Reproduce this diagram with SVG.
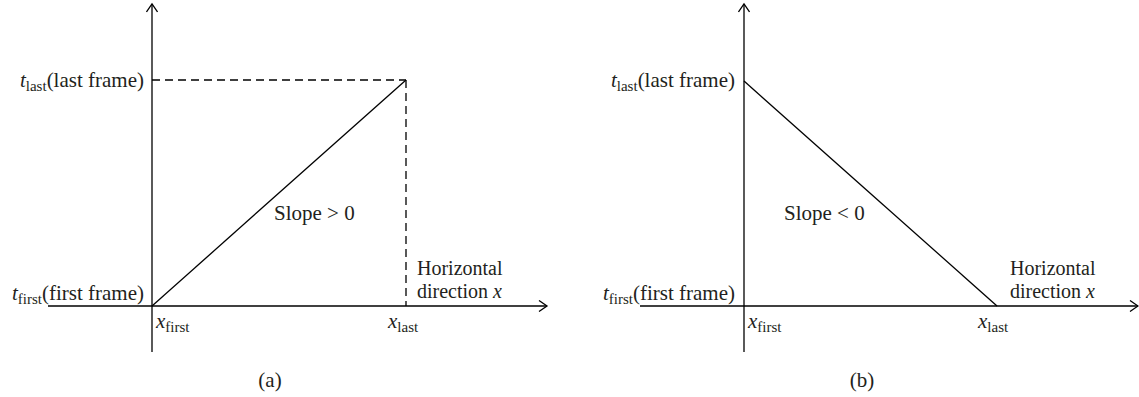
<svg xmlns="http://www.w3.org/2000/svg" width="1139" height="397" viewBox="0 0 1139 397">
  <style>
    .ax { stroke: #000; stroke-width: 1.3; fill: none; }
    .dash { stroke: #000; stroke-width: 1.3; fill: none; stroke-dasharray: 8 5; }
    text { font-family: "Liberation Serif", "Times New Roman", serif; font-size: 21px; fill: #231f20; }
    .it { font-style: italic; }
    .sub { font-size: 15px; }
    .hd { font-size: 20px; }
  </style>
  <defs>
    <marker id="arr" viewBox="0 0 12 12" refX="10" refY="6" markerWidth="12" markerHeight="12" markerUnits="userSpaceOnUse" orient="auto">
      <path d="M2,0.5 L10,6 L2,11.5" fill="none" stroke="#000" stroke-width="1.3"/>
    </marker>
  </defs>
  <rect width="1139" height="397" fill="#fff"/>

  <g id="connectors">
    <!-- panel a -->
    <line class="ax" x1="152" y1="352" x2="152" y2="4" marker-end="url(#arr)"/>
    <line class="ax" x1="48" y1="306" x2="547" y2="306" marker-end="url(#arr)"/>
    <line class="ax" x1="152" y1="306" x2="406" y2="80"/>
    <line class="dash" x1="152" y1="80" x2="406" y2="80"/>
    <line class="dash" x1="406" y1="80" x2="406" y2="306"/>
    <!-- panel b -->
    <line class="ax" x1="744" y1="352" x2="744" y2="4" marker-end="url(#arr)"/>
    <line class="ax" x1="640" y1="306" x2="1138" y2="306" marker-end="url(#arr)"/>
    <line class="ax" x1="744" y1="81" x2="997" y2="306"/>
  </g>

  <g id="panel-a-labels">
    <text x="144" y="87" text-anchor="end"><tspan class="it">t</tspan><tspan class="sub" dy="4">last</tspan><tspan dy="-4">(last frame)</tspan></text>
    <text x="144" y="300" text-anchor="end"><tspan class="it">t</tspan><tspan class="sub" dy="4">first</tspan><tspan dy="-4">(first frame)</tspan></text>
    <text x="156" y="328"><tspan class="it">x</tspan><tspan class="sub" dy="4">first</tspan></text>
    <text x="388" y="328"><tspan class="it">x</tspan><tspan class="sub" dy="4">last</tspan></text>
    <text x="274" y="220">Slope &gt; 0</text>
    <text class="hd" x="417" y="275">Horizontal</text>
    <text class="hd" x="417" y="298">direction <tspan class="it">x</tspan></text>
    <text x="270" y="387" text-anchor="middle">(a)</text>
  </g>

  <g id="panel-b-labels">
    <text x="735" y="87" text-anchor="end"><tspan class="it">t</tspan><tspan class="sub" dy="4">last</tspan><tspan dy="-4">(last frame)</tspan></text>
    <text x="735" y="300" text-anchor="end"><tspan class="it">t</tspan><tspan class="sub" dy="4">first</tspan><tspan dy="-4">(first frame)</tspan></text>
    <text x="748" y="328"><tspan class="it">x</tspan><tspan class="sub" dy="4">first</tspan></text>
    <text x="978" y="328"><tspan class="it">x</tspan><tspan class="sub" dy="4">last</tspan></text>
    <text x="784" y="220">Slope &lt; 0</text>
    <text class="hd" x="1010" y="275">Horizontal</text>
    <text class="hd" x="1010" y="298">direction <tspan class="it">x</tspan></text>
    <text x="862" y="387" text-anchor="middle">(b)</text>
  </g>
</svg>
